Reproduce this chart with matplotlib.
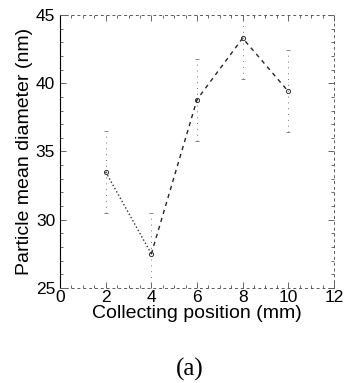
import matplotlib.pyplot as plt
from matplotlib.ticker import MultipleLocator

position = [2, 4, 6, 8, 10]
diameter = [33.5, 27.5, 38.8, 43.3, 39.4]
err = [3.0, 3.0, 3.0, 3.0, 3.0]

plt.rcParams['font.family'] = ['Liberation Sans', 'DejaVu Sans']

fig = plt.figure(figsize=(3.45, 3.83), dpi=100)
ax = fig.add_axes([0.174, 0.248, 0.794, 0.713])

eb = ax.errorbar(position, diameter, yerr=err, fmt='none', ecolor='0.45',
                 elinewidth=0.7, capsize=1.5, capthick=0.6)
eb[2][0].set_linestyle((0, (1, 5)))
# dotted from 2 to 4, dashed afterwards
ax.plot(position[:2], diameter[:2], ':', color='0.2', lw=1.0)
ax.plot(position[1:], diameter[1:], '--', color='0.15', lw=1.0, dashes=(3, 3))
ax.plot(position, diameter, 'o', ms=3, mfc='none', mec='0.2', mew=0.7)

ax.set_xlim(0, 12)
ax.set_ylim(25, 45)
ax.xaxis.set_major_locator(MultipleLocator(2))
ax.yaxis.set_major_locator(MultipleLocator(5))
ax.xaxis.set_minor_locator(MultipleLocator(0.5))
ax.yaxis.set_minor_locator(MultipleLocator(1))
ax.tick_params(which='both', direction='in', top=True, right=True,
               labelsize=12.5, width=0.6, color='0.3')
ax.tick_params(axis='x', pad=1.5)
ax.tick_params(which='major', length=4)
ax.tick_params(which='minor', length=2)
for s in ['top', 'right', 'bottom']:
    ax.spines[s].set_linestyle((0, (2, 4)))
    ax.spines[s].set_linewidth(0.7)
    ax.spines[s].set_color('0.35')
ax.spines['left'].set_linewidth(0.8)

ax.set_xlabel('Collecting position (mm)', fontsize=14, labelpad=0)
ax.set_ylabel('Particle mean diameter (nm)', fontsize=14, labelpad=2)

fig.text(0.55, 0.035, '(a)', fontsize=18, family='Liberation Serif',
         ha='center', va='center')

fig.savefig('out.png', dpi=100)
